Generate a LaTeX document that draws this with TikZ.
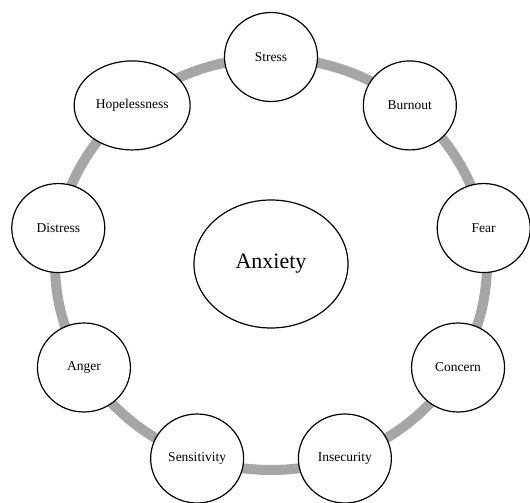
\documentclass[tikz,border=0pt]{standalone}
\usepackage{fontspec}
\setmainfont{Liberation Serif}
\usetikzlibrary{shapes}
\usetikzlibrary{positioning}
\tikzset{
    ringnode/.style = {ellipse, draw=black, line width=1.2pt, fill=white, inner sep=0pt, minimum width=93pt, minimum height=89pt, font=\fontsize{13.5}{15}\selectfont},
    widenode/.style = {ringnode, minimum width=116pt},
    hubnode/.style = {ellipse, draw=black, line width=1.2pt, fill=white, inner sep=0pt, minimum width=154pt, minimum height=128pt, font=\fontsize{22}{26}\selectfont},
    ringline/.style = {line width=10pt, draw=gray!70}, % back ring
}

\begin{document}
\begin{tikzpicture}[x=1pt,y=1pt]
  \useasboundingbox (0,0) rectangle (530,503);

  \coordinate (c) at (271,239);
  \draw[ringline] (c) ellipse [x radius=216, y radius=206];

  \node[hubnode] (anxiety) at (c) {Anxiety};

  \foreach \name/\ang/\txt/\sty in {
      stress/90/Stress/ringnode,
      burnout/50/Burnout/ringnode,
      fear/10/Fear/ringnode,
      concern/-30/Concern/ringnode,
      insecurity/-70/Insecurity/ringnode,
      sensitivity/-110/Sensitivity/ringnode,
      anger/-150/Anger/ringnode,
      distress/170/Distress/ringnode,
      hope/130/Hopelessness/widenode}
    \node[\sty] (\name) at ([shift={(\ang:216 and 207)}]c) {\txt};

\end{tikzpicture}
\end{document}
